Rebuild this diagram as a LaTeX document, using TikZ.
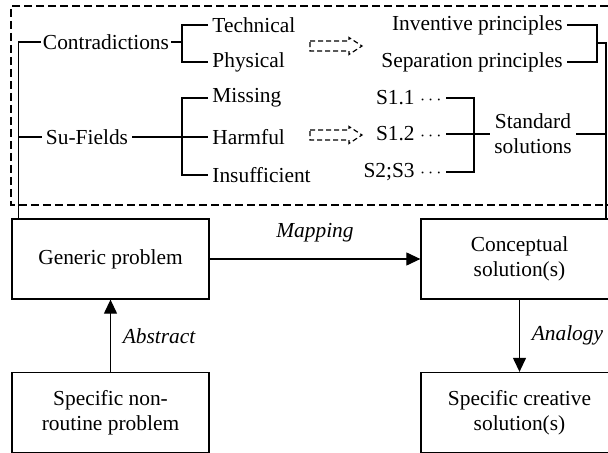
\documentclass[tikz,border=0pt]{standalone}
\usepackage{fontspec}
\setmainfont{Liberation Serif}
\usetikzlibrary{arrows.meta, positioning}

\tikzset{
  box/.style={draw, line width=0.65pt, minimum width=98.5pt, minimum height=40pt, align=center},
  txt/.style={inner sep=2pt, align=center},
  tree/.style={line width=0.55pt},
  flow/.style={line width=0.6pt, -{Triangle[length=7pt, width=6.5pt]}},
  hollow/.style={line width=0.6pt, dash pattern=on 2.5pt off 1.5pt},
  frame/.style={line width=0.6pt, dash pattern=on 4pt off 2pt},
}
\newcommand{\hollowarrow}[1]{\draw [hollow, shift={(#1)}] (0,-5) -- (39,-5) -- (39,-8.5) -- (52,0) -- (39,8.5) -- (39,5) -- (0,5) -- cycle;}

\begin{document}
\begin{tikzpicture}[x=0.5pt, y=-0.5pt, font=\fontsize{10.7}{12.5}\selectfont]
  \useasboundingbox (0,0) rectangle (608,453);
  % dashed frame round the tools
  \draw [frame] (620,6) -- (11,6) -- (11,205) -- (620,205);

  % problem and solution boxes
  \node (gen) at (110.5,259) [box] {Generic problem};
  \node (con) at (519.5,259) [box] {Conceptual\\solution(s)};
  \node (spec) at (110.5,412.5) [box] {Specific non-\\routine problem};
  \node (crea) at (519.5,412.5) [box] {Specific creative\\solution(s)};

  \draw [flow] (gen) -- (con) node [midway, yshift=13pt] {\itshape Mapping};
  \draw [flow] (spec) -- (gen) node [midway, right=2.5pt] {\itshape Abstract};
  \draw [flow] (con) -- (crea) node [midway, right=2.5pt] {\itshape Analogy};

  % left tree
  \node (contr) at (106,42) [inner sep=1pt] {Contradictions};
  \node (sufld) at (87,137) [txt] {Su-Fields};
  \coordinate (trunk) at (18.5,42);
  \draw [tree] (contr) -- (trunk) -- (trunk |- gen.north);
  \draw [tree] (sufld) -- (trunk |- sufld);

  \node (tech) at (208,25) [txt, right] {Technical};
  \node (phys) at (208,62) [txt, right] {Physical};
  \node (miss) at (208,98) [txt, right] {Missing};
  \node (harm) at (208,137) [txt, right] {Harmful};
  \node (insu) at (208,175) [txt, right] {Insufficient};
  \coordinate (cfork) at (182,42);
  \coordinate (sfork) at (182,137);
  \draw [tree] (contr) -- (cfork);
  \draw [tree] (tech.west) -- (tech.west -| cfork) -- (phys.west -| cfork) -- (phys.west);
  \draw [tree] (sufld) -- (harm);
  \draw [tree] (miss.west) -- (miss.west -| sfork) -- (insu.west -| sfork) -- (insu.west);

  \hollowarrow{310,46}
  \hollowarrow{310,135}

  % right tree
  \node (inv) at (567,25) [txt, left] {Inventive principles};
  \node (sep) at (567,62) [txt, left] {Separation principles};
  \node (s11) at (446,98) [txt, left] {S1.1 {\small$\cdots$}};
  \node (s12) at (446,134) [txt, left] {S1.2 {\small$\cdots$}};
  \node (s23) at (446,172) [txt, left] {S2;S3 {\small$\cdots$}};
  \node (std) at (533,134) [txt] {Standard\\solutions};
  \coordinate (pfork) at (597,43);
  \coordinate (rtrunk) at (606,43);
  \coordinate (qfork) at (474,134);
  \draw [tree] (inv.east) -- (inv.east -| pfork) -- (sep.east -| pfork) -- (sep.east);
  \draw [tree] (pfork) -- (rtrunk) -- (rtrunk |- con.north);
  \draw [tree] (s11.east) -- (s11.east -| qfork) -- (s23.east -| qfork) -- (s23.east);
  \draw [tree] (s12) -- (std);
  \draw [tree] (std.east) -- (std.east -| rtrunk);
\end{tikzpicture}
\end{document}
